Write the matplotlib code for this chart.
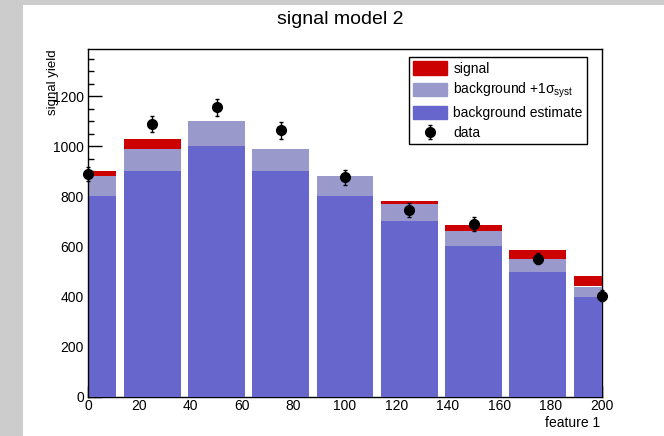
import numpy as np
import matplotlib
matplotlib.use("Agg")
import matplotlib.pyplot as plt
from matplotlib.patches import Patch, Rectangle

plt.rcParams['font.family'] = ['Liberation Sans', 'DejaVu Sans']
plt.rcParams['mathtext.fontset'] = 'custom'
plt.rcParams['mathtext.rm'] = 'Liberation Sans'
plt.rcParams['mathtext.it'] = 'Liberation Sans'

# bin centres and values
bins = [0, 25, 50, 75, 100, 125, 150, 175, 200]
background = [800, 900, 1000, 900, 800, 700, 600, 500, 400]
background_up = [880, 990, 1100, 990, 880, 770, 660, 550, 440]
signal = [20, 40, 0, 0, 0, 10, 25, 35, 40]   # visible on top of +1 sigma
data = [890, 1090, 1157, 1064, 877, 747, 690, 552, 404]

red = '#cc0000'
light = '#9999cc'
dark = '#6666cc'
width = 22

fig = plt.figure(figsize=(6.64, 4.36), dpi=100, facecolor='#cccccc')
fig.patches.append(Rectangle((23 / 664, 0), 1, 1 - 5 / 436, transform=fig.transFigure,
                             facecolor='white', edgecolor='none', zorder=-10))
ax = fig.add_axes([88 / 664, 1 - 396.5 / 436, 514 / 664, 347.5 / 436])
ax.set_facecolor('none')

ax.bar(bins, signal, width=width, bottom=background_up, color=red, zorder=2.6)
ax.bar(bins, background_up, width=width, color=light, zorder=2.6)
ax.bar(bins, background, width=width, color=dark, zorder=2.6)
eb = ax.errorbar(bins, data, yerr=np.sqrt(data), fmt='o', color='black', markersize=7,
                 elinewidth=1, capsize=1.5, zorder=5, clip_on=False)

ax.set_xlim(0, 200)
ax.set_ylim(0, 1390)
ax.set_xticks(range(0, 201, 20))
ax.set_yticks(range(0, 1201, 200))
ax.set_yticks(range(0, 1390, 50), minor=True)
ax.set_xticks(range(0, 201, 5), minor=True)
ax.tick_params(direction='in', length=10, width=1, labelsize=10, pad=3)
ax.tick_params(which='minor', direction='in', length=4, width=1)
ax.tick_params(axis='x', length=8, pad=2)
ax.tick_params(top=False, right=False)
for s in ax.spines.values():
    s.set_linewidth(1)
ax.spines['left'].set_zorder(4)

fig.text(340 / 664, 1 - 20 / 436, 'signal model 2', ha='center', va='center', fontsize=14)
fig.text(53 / 664, 1 - 49 / 436, 'signal yield', rotation=90, ha='center', va='top', fontsize=9.5)
fig.text(600 / 664, 1 - 423 / 436, 'feature 1', ha='right', va='center', fontsize=10)

handles = [Patch(color=red), Patch(color=light), Patch(color=dark), eb]
labels = ['signal', r'background +1$\sigma_{\mathrm{syst}}$', 'background estimate', 'data']
leg = fig.legend(handles, labels, loc='upper left', bbox_to_anchor=(409 / 664, 1 - 57 / 436),
                 bbox_transform=fig.transFigure, borderaxespad=0, fancybox=False,
                 edgecolor='black', fontsize=10, handlelength=2.4, handleheight=1.1,
                 labelspacing=0.4, borderpad=0.3, handletextpad=0.5, framealpha=1)
leg.get_frame().set_linewidth(1)

fig.savefig('out.png', dpi=100, facecolor=fig.get_facecolor())
